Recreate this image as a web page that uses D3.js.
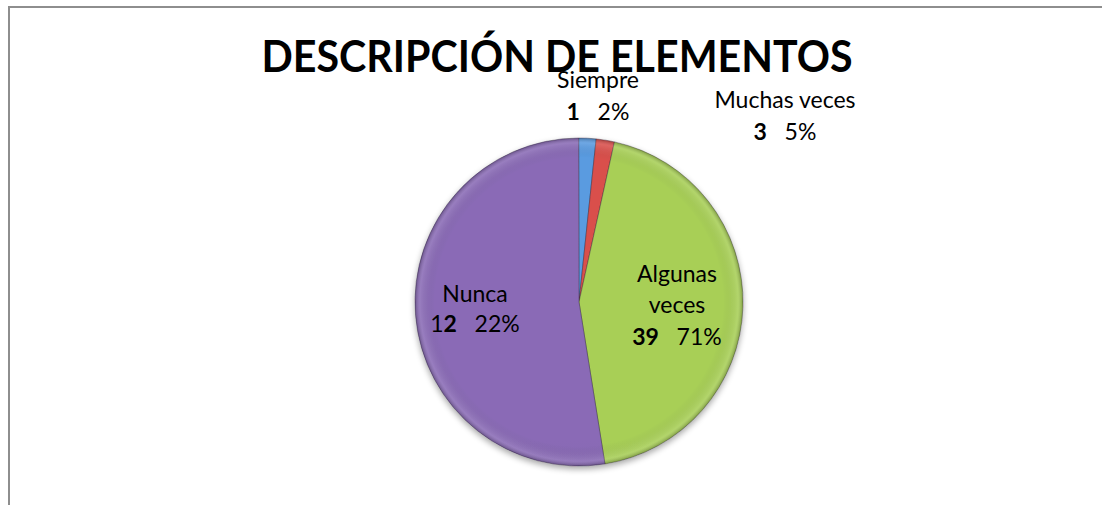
<!DOCTYPE html>
<html>
<head>
<meta charset="utf-8">
<script src="https://cdn.jsdelivr.net/npm/d3@7"></script>
<style>
  html, body { margin: 0; padding: 0; background: #fff; }
  svg { display: block; }
</style>
</head>
<body>
<svg id="chart" width="1102" height="505"></svg>
<script>
// ---- data ----
const categories = ["Siempre", "Muchas veces", "Algunas veces", "Nunca"];
const counts = [1, 3, 39, 12];
const percentLabels = ["2%", "5%", "71%", "22%"];
// share of the circle each slice occupies as drawn in the picture (%)
const sliceShare = [1.7, 1.8, 44.0, 52.5];
const titleText = "DESCRIPCIÓN DE ELEMENTOS";

// ---- style ----
const colorsTop = ["#5a9be0", "#d9504c", "#a8cf57", "#8a6bb6"];
const colorsBot = ["#3f7fc7", "#b83b38", "#8fb53f", "#6a4d92"];

const svg = d3.select("#chart");
const W = 1102, H = 505;
const cx = 579, cy = 302, R = 164;

// frame (top and left edges visible)
svg.append("line").attr("x1", 8).attr("x2", W).attr("y1", 7).attr("y2", 7)
  .attr("stroke", "#8e8e8e").attr("stroke-width", 2);
svg.append("line").attr("x1", 9).attr("x2", 9).attr("y1", 6).attr("y2", H)
  .attr("stroke", "#8e8e8e").attr("stroke-width", 2);

const defs = svg.append("defs");
categories.forEach((c, i) => {
  const g = defs.append("linearGradient").attr("id", "grad" + i)
    .attr("gradientUnits", "userSpaceOnUse")
    .attr("x1", cx).attr("y1", cy - R).attr("x2", cx).attr("y2", cy + R);
  g.append("stop").attr("offset", "0%").attr("stop-color", colorsTop[i]);
  g.append("stop").attr("offset", "100%").attr("stop-color", colorsBot[i]);
});
const rim = defs.append("radialGradient").attr("id", "rim")
  .attr("gradientUnits", "userSpaceOnUse")
  .attr("cx", cx).attr("cy", cy).attr("r", R);
rim.append("stop").attr("offset", "88%").attr("stop-color", "#000").attr("stop-opacity", 0);
rim.append("stop").attr("offset", "97%").attr("stop-color", "#fff").attr("stop-opacity", 0.12);
rim.append("stop").attr("offset", "100%").attr("stop-color", "#000").attr("stop-opacity", 0.25);

const shadow = defs.append("filter").attr("id", "shadow")
  .attr("x", "-20%").attr("y", "-20%").attr("width", "140%").attr("height", "140%");
shadow.append("feGaussianBlur").attr("in", "SourceAlpha").attr("stdDeviation", 3);
shadow.append("feOffset").attr("dx", 0).attr("dy", 3).attr("result", "b");
shadow.append("feComponentTransfer").append("feFuncA").attr("type", "linear").attr("slope", 0.35);
const fm = shadow.append("feMerge");
fm.append("feMergeNode");
fm.append("feMergeNode").attr("in", "SourceGraphic");

const pie = d3.pie().sort(null).value(d => d.share).startAngle(-0.002).endAngle(2 * Math.PI - 0.002);
const arc = d3.arc().innerRadius(0).outerRadius(R);
const data = categories.map((c, i) => ({ cat: c, share: sliceShare[i], i }));
const arcs = pie(data);

const g = svg.append("g").attr("transform", `translate(${cx},${cy})`).attr("filter", "url(#shadow)");
g.selectAll("path.slice").data(arcs).enter().append("path")
  .attr("class", "slice")
  .attr("d", arc)
  .attr("fill", d => `url(#grad${d.data.i})`)
  .attr("transform", `translate(${-cx},${-cy})`)
  .attr("stroke", "rgba(40,30,50,0.45)")
  .attr("stroke-width", 0.8);
// fix: gradients are user space, so draw the paths in absolute coords
g.selectAll("path.slice").attr("transform", null);
g.attr("transform", null);
g.selectAll("path.slice").attr("d", d => arc(d)).attr("transform", `translate(${cx},${cy})`);
g.append("circle").attr("cx", cx).attr("cy", cy).attr("r", R)
  .attr("fill", "url(#rim)").attr("pointer-events", "none");

// ---- title ----
svg.append("text")
  .attr("x", 557).attr("y", 72)
  .attr("text-anchor", "middle")
  .attr("font-family", "Lato, 'Open Sans', sans-serif")
  .attr("font-weight", "bold")
  .attr("font-size", 43)
  .attr("textLength", 591)
  .attr("lengthAdjust", "spacingAndGlyphs")
  .attr("fill", "#000")
  .text(titleText);

// ---- data labels ----
// label layout: line anchors (center x, baseline y) for each category
const labelLayout = [
  { x: 598, y: [88, 120] },
  { x: 785, y: [108, 140] },
  { x: 677, y: [282, 313, 345], split: true },
  { x: 475, y: [302, 332], boldLast: true }
];
const lf = "Lato, 'Open Sans', sans-serif";
const fs = 23;
categories.forEach((c, i) => {
  const L = labelLayout[i];
  const nameLines = L.split ? c.split(" ") : [c];
  nameLines.forEach((line, k) => {
    svg.append("text").attr("x", L.x).attr("y", L.y[k])
      .attr("text-anchor", "middle").attr("font-family", lf).attr("font-size", fs)
      .attr("fill", "#000").text(line);
  });
  const t = svg.append("text").attr("x", L.x).attr("y", L.y[nameLines.length])
    .attr("text-anchor", "middle").attr("font-family", lf).attr("font-size", fs)
    .attr("fill", "#000").attr("xml:space", "preserve").style("white-space", "pre");
  const cs = String(counts[i]);
  if (L.boldLast) {
    t.append("tspan").text(cs.slice(0, -1));
    t.append("tspan").attr("font-weight", "bold").text(cs.slice(-1));
  } else {
    t.append("tspan").attr("font-weight", "bold").text(cs);
  }
  t.append("tspan").text("   " + percentLabels[i]);
});
</script>
</body>
</html>
